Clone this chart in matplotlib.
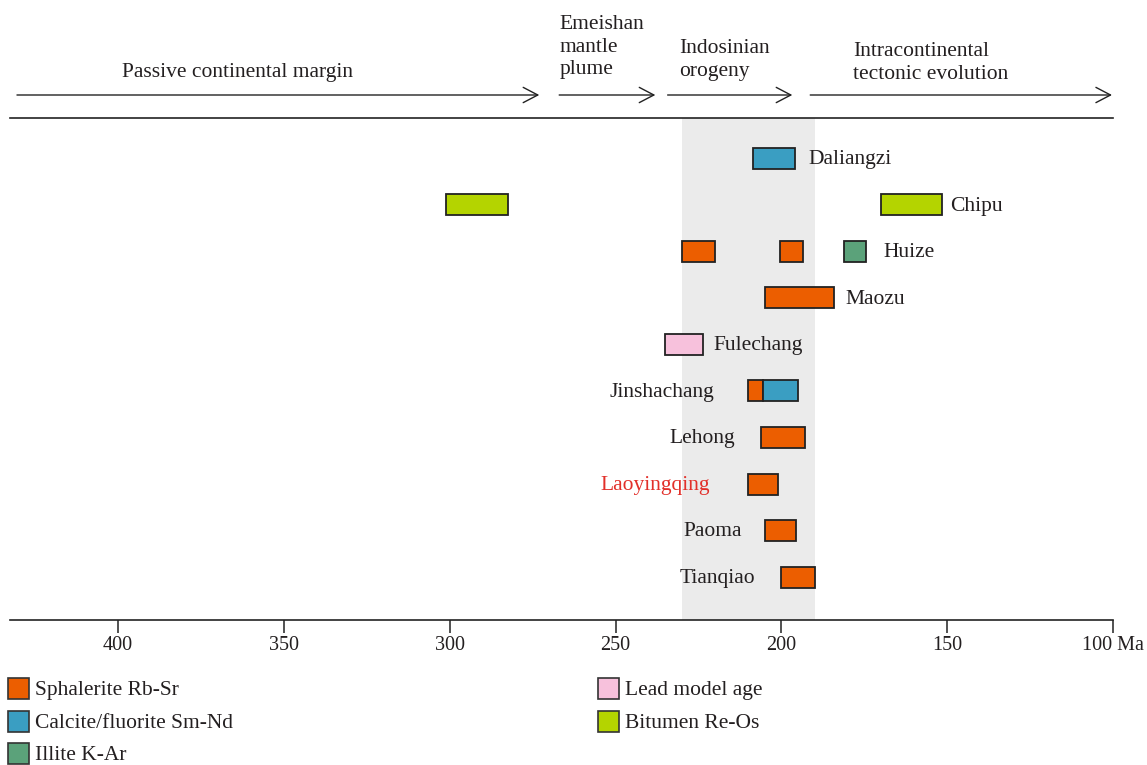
import matplotlib
matplotlib.use("Agg")
import matplotlib.pyplot as plt
from matplotlib.patches import Rectangle
from matplotlib.transforms import blended_transform_factory

plt.rcParams['font.family'] = ['Liberation Serif', 'DejaVu Serif']
TEXT = '#231f20'
FS = 15.5

# Deposits, bottom to top
deposits = ["Tianqiao", "Paoma", "Laoyingqing", "Lehong", "Jinshachang",
            "Fulechang", "Maozu", "Huize", "Chipu", "Daliangzi"]

# Age ranges (older, younger) in Ma for each dating method
sphalerite_rbsr = [("Tianqiao", 200, 190), ("Paoma", 205, 195.5),
                   ("Laoyingqing", 210, 201), ("Lehong", 206, 193),
                   ("Jinshachang", 210, 205.5), ("Maozu", 205, 184),
                   ("Huize", 230, 220), ("Huize", 200.5, 193.5)]
calcite_smnd = [("Jinshachang", 205.5, 195), ("Daliangzi", 208.5, 196)]
illite_kar = [("Huize", 181, 174.5)]
lead_model = [("Fulechang", 235, 223.5)]
bitumen_reos = [("Chipu", 301, 282.5), ("Chipu", 170, 151.5)]

methods = ["Sphalerite Rb-Sr", "Calcite/fluorite Sm-Nd", "Illite K-Ar",
           "Lead model age", "Bitumen Re-Os"]
method_data = [sphalerite_rbsr, calcite_smnd, illite_kar, lead_model, bitumen_reos]
method_colors = ["#ec5e00", "#3a9ec2", "#5ba27a", "#f7c1dc", "#b4d400"]

# Indosinian orogeny window (Ma)
orogeny_window = (230, 190)

# Tectonic stages: (label, start, end)
stage_labels = ["Passive continental margin", "Emeishan\nmantle\nplume",
                "Indosinian\norogeny", "Intracontinental\ntectonic evolution"]
stage_spans = [(430.5, 273), (267, 238), (234.3, 196.7), (191.3, 100.3)]

x_ticks = [400, 350, 300, 250, 200, 150, 100]
x_tick_labels = ["400", "350", "300", "250", "200", "150", "100 Ma"]

# Label anchor (Ma) and alignment for each deposit name
label_pos = {"Daliangzi": (191.9, 'left'), "Chipu": (149.0, 'left'),
             "Huize": (169.2, 'left'), "Maozu": (180.7, 'left'),
             "Fulechang": (220.4, 'left'), "Jinshachang": (220.1, 'right'),
             "Lehong": (214.1, 'right'), "Laoyingqing": (221.4, 'right'),
             "Paoma": (212.0, 'right'), "Tianqiao": (207.8, 'right')}
label_colors = {"Laoyingqing": "#e2302a"}

W, H = 1147, 765
fig = plt.figure(figsize=(W / 100, H / 100), dpi=100)
ax = fig.add_axes([10 / W, 1 - 620 / H, (1113 - 10) / W, (620 - 118) / H])

ax.set_xlim(432.6, 100)
ax.set_ylim(-0.92, 9.86)

ax.axvspan(*orogeny_window, color='#ebebeb', lw=0, zorder=0)

row = {d: i for i, d in enumerate(deposits)}
bar_h = 0.45
for recs, col in zip(method_data, method_colors):
    for name, old, young in recs:
        ax.add_patch(Rectangle((young, row[name] - bar_h / 2), old - young, bar_h,
                               facecolor=col, edgecolor='#222222', lw=1.3, zorder=3))

for name in deposits:
    x, ha = label_pos[name]
    ax.text(x, row[name] - 0.03, name, ha=ha, va='center', fontsize=FS,
            color=label_colors.get(name, TEXT), zorder=4)

for s in ['left', 'right']:
    ax.spines[s].set_visible(False)
for s in ['top', 'bottom']:
    ax.spines[s].set_linewidth(1.2)
    ax.spines[s].set_color('#222222')
ax.set_yticks([])
ax.set_xticks(x_ticks)
ax.set_xticklabels(x_tick_labels, fontsize=14.5, color=TEXT)
ax.tick_params(axis='x', direction='out', length=9, width=1.1, color='#222222', pad=2.5)

# Tectonic stage arrows above the plot
tr = blended_transform_factory(ax.transData, ax.transAxes)
arrow_y = 1 + 23 / 502
for (x0, x1) in stage_spans:
    ax.annotate('', xy=(x1, arrow_y), xytext=(x0, arrow_y), xycoords=tr, textcoords=tr,
                annotation_clip=False,
                arrowprops=dict(arrowstyle='->,head_length=1.05,head_width=0.55',
                                lw=1.0, color='#222222', shrinkA=0, shrinkB=0))

ax.text(364.1, (620 - 73) / 502, stage_labels[0], transform=tr, ha='center',
        va='center', fontsize=FS, color=TEXT)
ax.text(266.9, (620 - 47) / 502, stage_labels[1], transform=tr, ha='left',
        va='center', fontsize=FS, color=TEXT, linespacing=1.25)
ax.text(230.7, (620 - 60) / 502, stage_labels[2], transform=tr, ha='left',
        va='center', fontsize=FS, color=TEXT, linespacing=1.25)
ax.text(178.3, (620 - 63) / 502, stage_labels[3], transform=tr, ha='left',
        va='center', fontsize=FS, color=TEXT, linespacing=1.25)

# Legend, drawn as swatches in figure pixels
legend_slots = [(8, 689), (8, 722), (8, 754), (598, 689), (598, 722)]
for (px, py), lab, col in zip(legend_slots, methods, method_colors):
    fig.patches.append(Rectangle((px / W, 1 - (py + 10) / H), 21 / W, 21 / H,
                                 transform=fig.transFigure, facecolor=col,
                                 edgecolor='#333333', lw=1.2))
    fig.text((px + 27) / W, 1 - (py + 1) / H, lab, ha='left', va='center',
             fontsize=FS, color=TEXT)

fig.savefig('out.png', dpi=100)
